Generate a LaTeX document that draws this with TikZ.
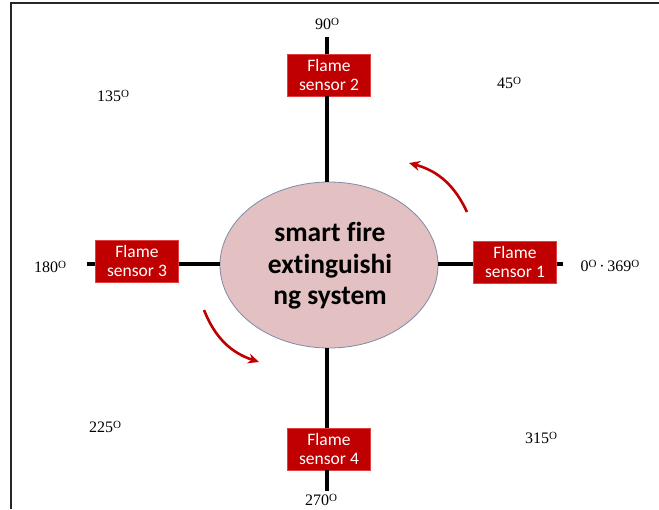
\documentclass[tikz,border=0pt]{standalone}
\usepackage{fontspec}
\setmainfont{Liberation Serif}
\newfontfamily\calib[Ligatures=CommonOff]{Carlito}
\usetikzlibrary{shapes.geometric,arrows.meta}
\definecolor{sensred}{HTML}{C00000}
\definecolor{sensedge}{HTML}{E04040}
\definecolor{ellfill}{HTML}{E3C0C2}
\definecolor{elledge}{HTML}{7F8CA8}
\definecolor{arrred}{HTML}{C00000}
\newcommand{\dg}{\raisebox{0.55ex}{\fontsize{11}{11}\selectfont O}}
\tikzset{
  sensorbox/.style={draw=sensedge, line width=0.8pt, fill=sensred, text=white,
    minimum width=83pt, minimum height=42pt, inner sep=0pt, align=center,
    font=\calib\fontsize{17.5}{19.5}\selectfont},
  axis/.style={line width=4.5pt, black},
  anglabel/.style={font=\fontsize{16}{18}\selectfont, inner sep=0pt},
  turn/.style={line width=2.6pt, arrred, -{Stealth[length=11pt,width=10pt]}, bend right=25}
}
\begin{document}
\begin{tikzpicture}[x=1pt,y=-1pt]
\useasboundingbox (0,0) rectangle (659,509);
\fill[white] (0,0) rectangle (659,509);
\draw[line width=1.5pt, black!85] (11,509) -- (11,3) -- (659,3);

\coordinate (top) at (327,37);
\coordinate (bot) at (327,491);
\coordinate (lft) at (87,264);
\coordinate (rgt) at (563,264);

\node[ellipse, draw=elledge, line width=0.8pt, fill=ellfill, minimum width=218pt,
  minimum height=166pt, inner sep=0pt] (sys) at (329,265) {};
\node[sensorbox] (s2) at (329,75) {Flame\\sensor 2};
\node[sensorbox] (s1) at (515,262) {Flame\\sensor 1};
\node[sensorbox] (s3) at (137,261) {Flame\\sensor 3};
\node[sensorbox] (s4) at (329,449) {Flame\\sensor 4};

\draw[axis] (top) -- (top |- s2.north);
\draw[axis] (top |- s2.south) -- (top |- sys.north);
\draw[axis] (bot |- sys.south) -- (bot |- s4.north);
\draw[axis] (bot |- s4.south) -- (bot);
\draw[axis] (lft) -- (s3.west |- lft);
\draw[axis] (s3.east |- lft) -- (sys.west |- lft);
\draw[axis] (sys.east |- rgt) -- (s1.west |- rgt);
\draw[axis] (s1.east |- rgt) -- (rgt);

\node[font=\calib\bfseries\fontsize{27.5}{31.5}\selectfont, align=center] (systxt) at (330,266)
  {smart fire\\extinguishi\\ng system};

\node[anglabel] (a90) at (327,24) {90\dg};
\node[anglabel] (a45) at (509,83) {45\dg};
\node[anglabel] (a135) at (113,96) {135\dg};
\node[anglabel] (a180) at (50,267) {180\dg};
\node[anglabel] (a0) at (610,266) {0\dg\,·\,369\dg};
\node[anglabel] (a225) at (105,427) {225\dg};
\node[anglabel] (a315) at (541,438) {315\dg};
\node[anglabel] (a270) at (321,500) {270\dg};

\coordinate (r1s) at (467,212);
\coordinate (r1e) at (409,163);
\coordinate (r2s) at (204,310);
\coordinate (r2e) at (259,362);
\draw[turn] (r1s) to (r1e);
\draw[turn] (r2s) to (r2e);
\end{tikzpicture}
\end{document}
